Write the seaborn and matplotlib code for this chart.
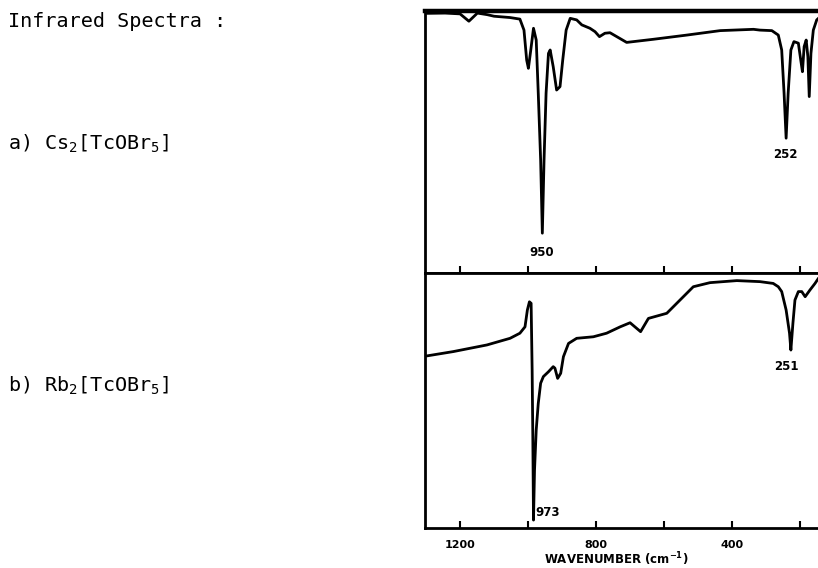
import matplotlib
matplotlib.use("Agg")
import matplotlib.pyplot as plt
import seaborn as sns
import pandas as pd

# ---- data ----
wavenumber_a = [1298, 1244, 1200, 1174, 1149, 1120, 1100, 1053, 1024, 1012,
                1004, 999, 992, 984, 976, 970, 963, 958, 953, 947,
                940, 935, 926, 916, 906, 898, 888, 876, 857, 842,
                818, 803, 790, 774, 759, 710, 631, 533, 435, 337,
                318, 283, 264, 254, 247, 241, 235, 227, 218, 205,
                198, 193, 188, 182, 177, 173, 168, 161, 151, 146, 140]
transmittance_a = [99.1, 99.2, 98.9, 96.1, 99.2, 98.6, 98.0, 97.5, 96.9, 92.7,
                   81.2, 78.1, 85.1, 93.4, 88.9, 68.6, 43.1, 15.1, 43.1, 68.6,
                   83.8, 85.1, 78.7, 69.8, 71.1, 81.3, 92.7, 97.2, 96.6, 94.7,
                   93.4, 92.1, 90.2, 91.5, 91.7, 88.0, 89.2, 90.8, 92.5, 93.0,
                   92.7, 92.5, 90.8, 85.1, 68.6, 51.4, 68.6, 85.1, 88.3, 87.7,
                   81.3, 76.8, 86.4, 88.9, 82.5, 67.3, 83.8, 92.7, 96.6, 97.2, 98.0]

wavenumber_b = [1298, 1220, 1121, 1053, 1024, 1009, 1002, 996, 991, 988,
                986, 984, 981, 976, 970, 963, 955, 940, 926, 921,
                913, 904, 896, 881, 857, 808, 769, 729, 700, 669,
                646, 592, 553, 514, 465, 386, 318, 279, 264, 254,
                241, 231, 227, 221, 215, 205, 195, 185, 171, 156, 146, 140]
transmittance_b = [67.4, 69.1, 71.7, 74.3, 76.3, 78.8, 85.4, 88.6, 88.0, 61.9,
                   35.8, 3.1, 22.7, 38.4, 48.8, 56.7, 59.3, 61.2, 63.2, 62.6,
                   58.6, 60.6, 67.1, 72.3, 74.3, 74.9, 76.3, 78.8, 80.4, 76.9,
                   82.1, 84.1, 89.3, 94.5, 96.1, 96.9, 96.5, 95.8, 94.5, 92.6,
                   85.4, 76.3, 69.7, 80.2, 89.3, 92.6, 92.6, 90.6, 93.2, 95.8, 97.8, 98.5]

tick_values = [1200, 1000, 800, 600, 400, 200]
tick_labels = ["1200", "", "800", "", "400", ""]

title_text = "Infrared Spectra :"
label_a = r"a) Cs$_\mathrm{2}$[TcOBr$_\mathrm{5}$]"
label_b = r"b) Rb$_\mathrm{2}$[TcOBr$_\mathrm{5}$]"
xlabel_text = r"WAVENUMBER (cm$^{\mathbf{-1}}$)"

peaks_a = [(960, 7.9, "950", "center"), (244, 45.0, "252", "center")]
peaks_b = [(239, 63.2, "251", "center"), (979, 5.9, "973", "left")]

# ---- style ----
sns.set_style("white")
plt.rcParams["font.family"] = ["DejaVu Sans"]
plt.rcParams["text.color"] = "black"
plt.rcParams["axes.labelcolor"] = "black"
plt.rcParams["xtick.color"] = "black"
plt.rcParams["mathtext.fontset"] = "custom"
plt.rcParams["mathtext.rm"] = "DejaVu Sans Mono"
plt.rcParams["mathtext.it"] = "DejaVu Sans Mono:italic"
plt.rcParams["mathtext.bf"] = "DejaVu Sans:bold"

W, H = 818, 568
fig = plt.figure(figsize=(W / 100, H / 100), dpi=100)
fig.patch.set_facecolor("white")

XL = (1304, 144)
left = 424.7 / W
width = (XL[0] - XL[1]) * 0.34 / W
ax_a = fig.add_axes([left, 1 - 272.7 / H, width, (272.7 - 11) / H])
ax_b = fig.add_axes([left, 1 - 528 / H, width, (528 - 272.7) / H])

df_a = pd.DataFrame({"w": wavenumber_a, "T": transmittance_a})
df_b = pd.DataFrame({"w": wavenumber_b, "T": transmittance_b})

for ax, df in ((ax_a, df_a), (ax_b, df_b)):
    sns.lineplot(data=df, x="w", y="T", ax=ax, sort=False, estimator=None,
                 color="black", linewidth=2.0, solid_joinstyle="round")
    ax.set_xlim(*XL)
    ax.set_ylim(0, 100)
    ax.set_ylabel("")
    ax.set_xlabel("")
    ax.set_yticks([])
    ax.set_facecolor("white")
    for s in ax.spines.values():
        s.set_color("black")
        s.set_linewidth(2.0)
    ax.spines["right"].set_visible(False)
    ax.set_xticks(tick_values)
    ax.tick_params(axis="x", direction="in", length=5, width=1.5,
                   bottom=True, top=False, color="black", labelcolor="black")

ax_a.spines["top"].set_linewidth(3.2)
ax_a.tick_params(axis="x", labelbottom=False)
ax_b.set_xticklabels(tick_labels)
ax_b.tick_params(axis="x", labelsize=8, pad=9)
for lbl in ax_b.get_xticklabels():
    lbl.set_fontweight("bold")

for x, y, t, ha in peaks_a:
    ax_a.text(x, y, t, ha=ha, va="center", fontsize=8.5, fontweight="bold",
              color="black")
for x, y, t, ha in peaks_b:
    ax_b.text(x, y, t, ha=ha, va="center", fontsize=8.5, fontweight="bold",
              color="black")

ax_b.set_xlabel(xlabel_text, fontsize=8.5, fontweight="bold", va="top",
                color="black")
ax_b.xaxis.set_label_coords((616 - 424.7) / (width * W), (528 - 550) / (528 - 272.7))

mono = ["DejaVu Sans Mono"]
fig.text(8 / W, 1 - 26.7 / H, title_text, family=mono, fontsize=14.5,
         va="baseline", ha="left", color="black")
fig.text(8 / W, 1 - 150 / H, label_a, family=mono, fontsize=14.5,
         va="baseline", ha="left", color="black")
fig.text(8 / W, 1 - 391.7 / H, label_b, family=mono, fontsize=14.5,
         va="baseline", ha="left", color="black")

fig.savefig("out.png", dpi=100, facecolor="white")
